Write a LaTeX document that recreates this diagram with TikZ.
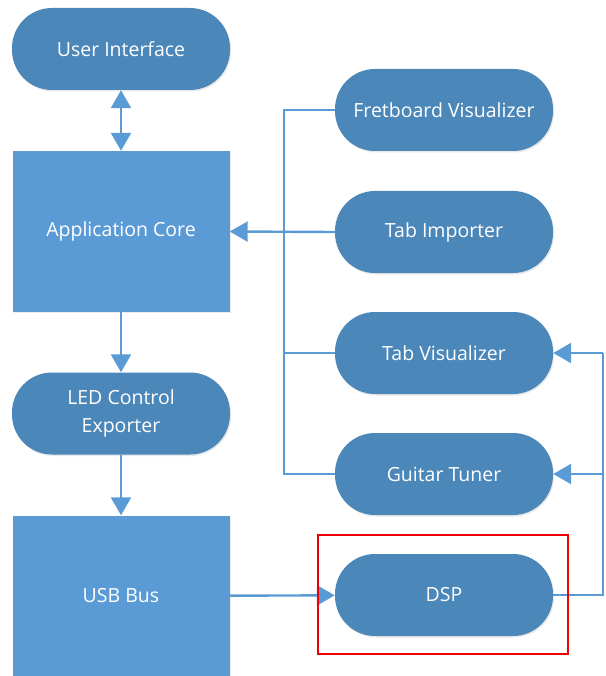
\documentclass[tikz,border=0pt]{standalone}
\usepackage{fontspec}
\setmainfont{Open Sans}
\usepackage{tikz}
\usetikzlibrary{positioning, arrows.meta, calc, shadows}
\definecolor{pillblue}{RGB}{76,135,186}
\definecolor{boxblue}{RGB}{91,155,213}
\definecolor{markred}{RGB}{240,0,0}

\tikzset{
  pill/.style={draw=none, fill=pillblue, rounded corners=40pt,
    minimum width=218pt, minimum height=82pt, align=center,
    text=white, font=\fontsize{19.5}{28}\selectfont,
    drop shadow={opacity=0.18, shadow xshift=1pt, shadow yshift=-1.5pt}},
  block/.style={draw=none, fill=boxblue, minimum width=217pt,
    minimum height=161pt, text=white, font=\fontsize{19.5}{28}\selectfont,
    drop shadow={opacity=0.15, shadow xshift=1pt, shadow yshift=-1pt}},
  link/.style={draw=boxblue, line width=2.4pt},
  arrow/.style={link, -{Triangle[length=18pt, width=20pt]}}
}

\begin{document}
\begin{tikzpicture}[x=1pt, y=-1pt]
    \useasboundingbox (0,0) rectangle (605,676);

    % left column
    \node[pill]  (ui)   at (121,49)    {User Interface};
    \node[block] (core) at (121,231.5) {Application Core};
    \node[pill]  (led)  at (121,413.5) {LED Control\\Exporter};
    \node[block] (usb)  at (121,596)   {USB Bus};

    % right column
    \node[pill] (fret)   at (444,110) {Fretboard Visualizer};
    \node[pill] (import) at (444,232) {Tab Importer};
    \node[pill] (tabvis) at (444,353) {Tab Visualizer};
    \node[pill] (tuner)  at (444,474) {Guitar Tuner};
    \node[pill] (dsp)    at (444,595) {DSP};

    % bus and return line
    \coordinate (bustop) at (284,110);
    \coordinate (busbot) at (284,474);
    \coordinate (retbot) at (603,595);
    \coordinate (rettop) at (603,353);

    \draw[arrow, {Triangle[length=18pt, width=20pt]}-{Triangle[length=18pt, width=20pt]}]
      (ui) -- (core);
    \draw[arrow] (core) -- (led);
    \draw[arrow] (led) -- (usb);
    \draw[arrow] (usb) -- (dsp);

    \draw[link] (fret.west) -- (bustop) -- (busbot) -- (tuner.west);
    \draw[link] (tabvis.west) -- (tabvis.west -| bustop);
    \draw[arrow] (import.west) -- (core.east);

    \draw[link] (dsp.east) -- (retbot) -- (rettop);
    \draw[arrow] (rettop) -- (tabvis.east);
    \draw[arrow] (tuner.east -| retbot) -- (tuner.east);

    % highlight
    \draw[markred, line width=2pt] (318,535) rectangle (568,654);
\end{tikzpicture}
\end{document}
